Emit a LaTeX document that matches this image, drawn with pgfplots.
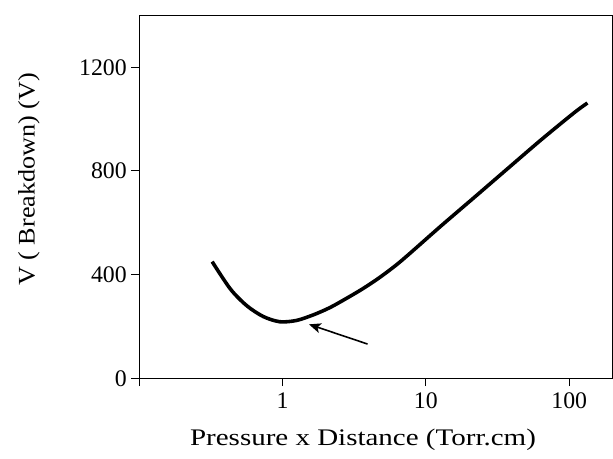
\documentclass[border=0pt]{standalone}
\usepackage{pgfplots}
\pgfplotsset{compat=1.18}
\usepackage{fontspec}
\setmainfont{Liberation Serif}
\newfontfamily\xlabfont[FakeStretch=1.22]{Liberation Serif}
\newfontfamily\ylabfont[FakeStretch=1.1]{Liberation Serif}
\usetikzlibrary{arrows.meta}

% Paschen curve
\pgfplotstableread{
pd     V
0.323  450
0.432  345
0.563  280
0.735  238
0.958  218
1.25   223
1.63   244
2.13   272
2.77   307
3.62   345
4.71   387
6.15   435
7.6    478
12.9   590
22.0   700
37.4   810
63.7   920
108    1024
134    1062
}\paschen

\begin{document}
\begin{tikzpicture}
  \begin{axis}[
      at={(0,0)}, anchor=south west,
      scale only axis,
      width=476bp, height=365bp,
      xmode=log,
      xmin=0.1, xmax=200,
      ymin=0, ymax=1400,
      xtick={0.1,1,10,100},
      xticklabels={,1,10,100},
      ytick={0,400,800,1200},
      xminorticks=false,
      tick pos=left,
      tick align=outside,
      major tick length=8bp,
      axis line style={line width=1.3bp},
      tick style={line width=1.1bp, black},
      /pgf/number format/assume math mode=true,
      /pgf/number format/1000 sep={},
      tick label style={font=\fontsize{24}{28}\selectfont},
      xticklabel style={yshift=-3bp},
      yticklabel style={xshift=-1bp},
      xlabel={Pressure x Distance (Torr.cm)},
      ylabel={V ( Breakdown) (V)},
      xlabel style={font=\fontsize{24}{28}\xlabfont,
        at={(axis description cs:0.473,0)}, anchor=center, yshift=-62bp},
      ylabel style={font=\fontsize{24}{28}\ylabfont,
        at={(axis description cs:-0.233,0.548)}, anchor=center},
    ]
    \addplot[black, line width=3.6bp, smooth] table[x=pd, y=V] {\paschen};
    \draw[-{Stealth[length=12bp, width=10bp, inset=3bp]}, line width=1.6bp]
      (axis cs:3.92,132) -- (axis cs:1.53,208);
  \end{axis}
  \path[use as bounding box] (-140bp,-80.5bp) rectangle (473bp,380.5bp);
\end{tikzpicture}
\end{document}
